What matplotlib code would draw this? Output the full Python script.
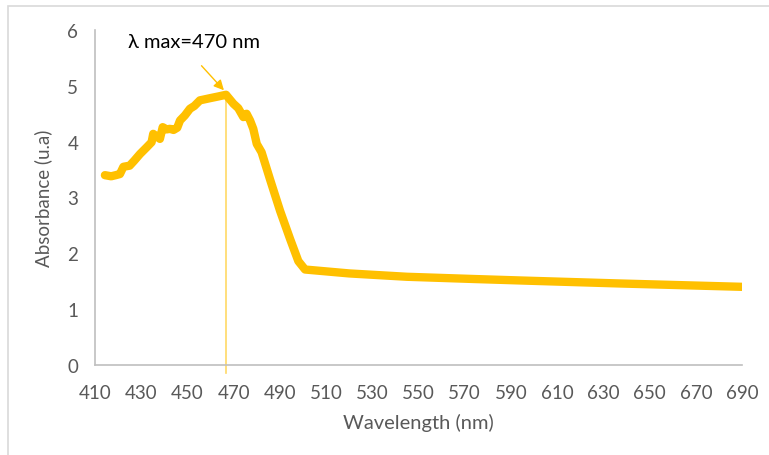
import numpy as np
import matplotlib.pyplot as plt
from matplotlib.patches import Rectangle

# absorbance spectrum
wavelength = [414.3, 417.0, 419.0, 420.8, 422.3, 425.0, 427.0, 429.5, 432.4, 434.5,
              435.2, 436.5, 438.1, 439.3, 441.0, 442.5, 444.0, 445.6, 446.8, 448.9,
              451.1, 453.0, 455.4, 459.9, 463.4, 466.7, 469.9, 472.0, 474.2, 475.6,
              477.1, 478.5, 480.0, 482.1, 485.7, 490.1, 494.4, 498.0, 500.9, 520.0,
              545.0, 574.0, 597.0, 637.0, 690.0]
absorbance = [3.40, 3.38, 3.40, 3.42, 3.55, 3.57, 3.66, 3.78, 3.90, 3.99,
              4.14, 4.10, 4.05, 4.26, 4.22, 4.23, 4.21, 4.25, 4.38, 4.47,
              4.59, 4.64, 4.74, 4.78, 4.81, 4.84, 4.68, 4.60, 4.44, 4.50,
              4.38, 4.23, 3.96, 3.81, 3.33, 2.76, 2.26, 1.86, 1.71, 1.64,
              1.58, 1.54, 1.51, 1.46, 1.40]

lam_max = 466.7
abs_max = 4.84
peak_label = "λ max=470 nm"

x_ticks = np.arange(410, 691, 20)
y_ticks = np.arange(0, 7, 1)

gold = '#FFC000'
grey = '#595959'

plt.rcParams['font.family'] = ['Lato', 'DejaVu Sans']

fig = plt.figure(figsize=(7.69, 4.56), dpi=100)
ax = fig.add_axes([0.1235, 0.1974, 0.8415, 0.7346])

# chart area border (only top and left edges fall inside the image)
fig.patches.append(Rectangle((8 / 769, -0.1), 1.2, 1 - 7 / 456 + 0.1,
                             transform=fig.transFigure, fill=False,
                             edgecolor='#D9D9D9', linewidth=1.2))

ax.plot(wavelength, absorbance, color=gold, linewidth=6,
        solid_capstyle='round', solid_joinstyle='round', zorder=3)

# marker line at the absorption maximum
ax.plot([lam_max, lam_max], [abs_max, -0.14], color='#FFD966',
        linewidth=1.2, clip_on=False, zorder=2)
ax.annotate('', xy=(lam_max - 0.9, abs_max + 0.08), xytext=(456.1, 5.36),
            arrowprops=dict(arrowstyle='-|>', color=gold, lw=1.0,
                            mutation_scale=15, shrinkA=0, shrinkB=0),
            annotation_clip=False)
ax.text(452.8, 5.79, peak_label, ha='center', va='center',
        fontsize=14.5, color='black')

ax.set_xlim(410, 690)
ax.set_ylim(0, 6)
ax.set_xticks(x_ticks)
ax.set_yticks(y_ticks)
ax.tick_params(length=0, labelsize=13.5, labelcolor=grey)
ax.tick_params(axis='x', pad=14)
ax.tick_params(axis='y', pad=12)

for side in ['top', 'right']:
    ax.spines[side].set_visible(False)
for side in ['left', 'bottom']:
    ax.spines[side].set_color('#BFBFBF')
    ax.spines[side].set_linewidth(1.2)

ax.set_xlabel('Wavelength (nm)', fontsize=14.5, color=grey, labelpad=8)
ax.set_ylabel('Absorbance (u.a)', fontsize=13.5, color=grey, labelpad=11)

fig.savefig('out.png', dpi=100)
